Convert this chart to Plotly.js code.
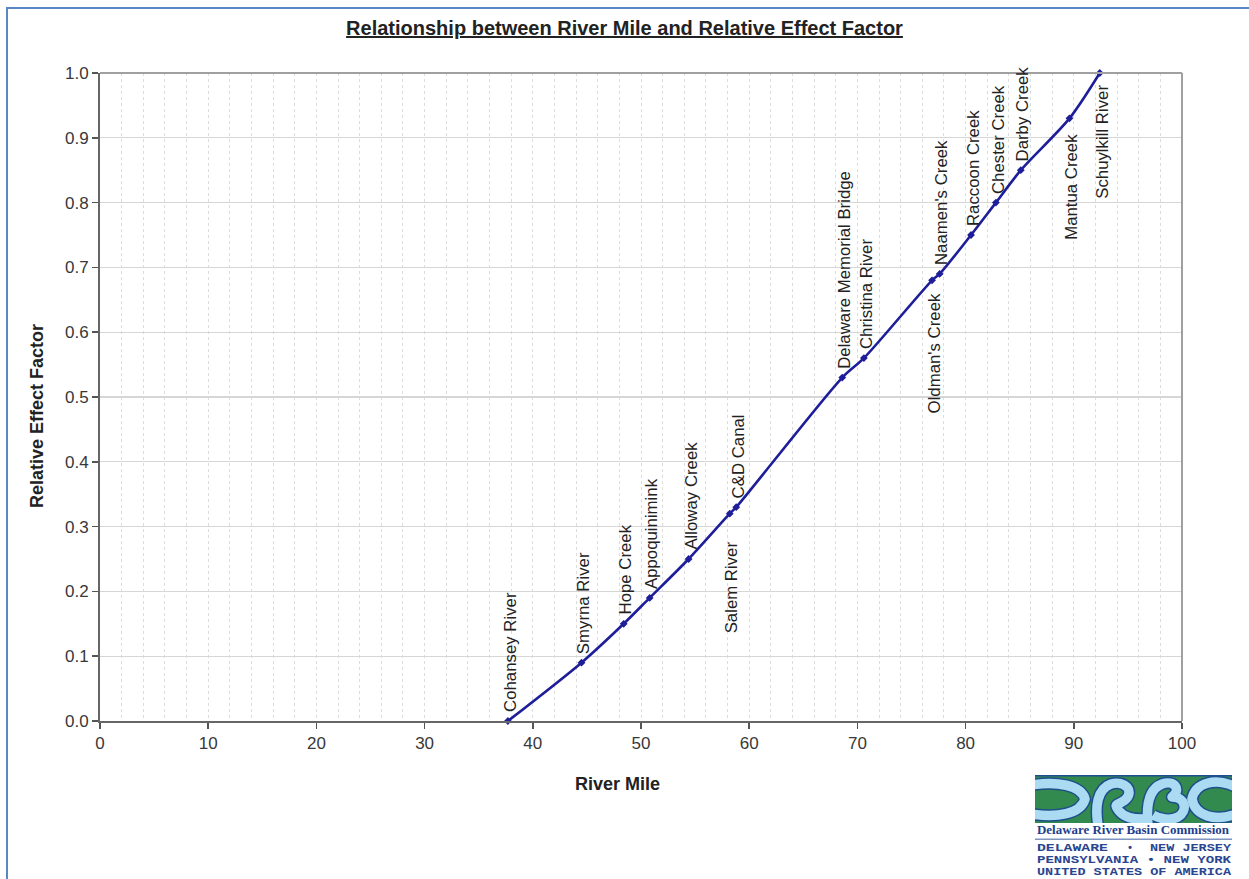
<!DOCTYPE html>
<html>
<head>
<meta charset="utf-8">
<script src="https://cdn.plot.ly/plotly-3.0.1.min.js"></script>
<style>
  html, body { margin: 0; padding: 0; background: #fff; overflow: hidden; }
  #wrap { position: relative; width: 1249px; height: 879px; overflow: hidden; }
  #frame { position: absolute; left: 6px; top: 7px; width: 1400px; height: 1000px;
           border-left: 2px solid #5a88c4; border-top: 2px solid #5a88c4; box-sizing: border-box; pointer-events: none; }
  #chart { position: absolute; left: 0; top: 0; width: 1249px; height: 879px; }
  #logo { position: absolute; left: 1035px; top: 775px; width: 200px; height: 104px; overflow: visible; }
</style>
</head>
<body>
<div id="wrap">
  <div id="chart"></div>
  <div id="frame"></div>
  <svg id="logo" width="200" height="104" viewBox="0 0 200 104" xmlns="http://www.w3.org/2000/svg">
    <defs>
      <clipPath id="box"><rect x="0" y="0" width="197" height="48"/></clipPath>
    </defs>
    <rect x="0" y="0" width="197" height="48" fill="#338a4e"/>
    <g fill="none" stroke-linecap="butt" stroke-linejoin="round" clip-path="url(#box)">
      <g stroke="#1d4f8a" stroke-width="12.5">
        <path d="M-4,10 C22,6 46,10 50,24 C46,39 22,43 -4,39"/>
        <path d="M63,50 C60,32 62,14 76,9 C90,5 100,16 90,25 C82,31 78,28 84,36 C90,43 98,44 108,44"/>
        <path d="M113,50 C111,30 114,14 127,9 C139,5 147,14 137,22 C151,22 153,36 143,42 C135,46 125,44 118,40"/>
        <path d="M201,12 C180,2 160,8 157,24 C160,41 180,47 201,39"/>
      </g>
      <g stroke="#abdaf3" stroke-width="9.5">
        <path d="M-4,10 C22,6 46,10 50,24 C46,39 22,43 -4,39"/>
        <path d="M63,50 C60,32 62,14 76,9 C90,5 100,16 90,25 C82,31 78,28 84,36 C90,43 98,44 108,44"/>
        <path d="M113,50 C111,30 114,14 127,9 C139,5 147,14 137,22 C151,22 153,36 143,42 C135,46 125,44 118,40"/>
        <path d="M201,12 C180,2 160,8 157,24 C160,41 180,47 201,39"/>
      </g>
    </g>
    <rect x="0" y="0" width="197" height="1.5" fill="#1f4f8f"/>
    <text x="2" y="59" font-family="Liberation Serif, DejaVu Serif, serif" font-weight="bold" font-size="13" fill="#1e3f8c" textLength="192" lengthAdjust="spacingAndGlyphs">Delaware River Basin Commission</text>
    <rect x="0" y="63.5" width="197" height="1.5" fill="#7f95c0"/>
    <g font-family="Liberation Mono, DejaVu Sans Mono, monospace" font-weight="bold" font-size="11" fill="#2a4690">
      <text x="2" y="76" textLength="71" lengthAdjust="spacingAndGlyphs">DELAWARE</text>
      <text x="95" y="76" text-anchor="middle">•</text>
      <text x="115" y="76" textLength="81" lengthAdjust="spacingAndGlyphs">NEW JERSEY</text>
      <text x="2" y="88" textLength="194" lengthAdjust="spacingAndGlyphs">PENNSYLVANIA • NEW YORK</text>
      <text x="2" y="100" textLength="194" lengthAdjust="spacingAndGlyphs">UNITED STATES OF AMERICA</text>
    </g>
  </svg>
</div>
<script>
// ---- data ----
const locations = [
  "Cohansey River", "Smyrna River", "Hope Creek", "Appoquinimink", "Alloway Creek",
  "Salem River", "C&D Canal", "Delaware Memorial Bridge", "Christina River",
  "Oldman's Creek", "Naamen's Creek", "Raccoon Creek", "Chester Creek", "Darby Creek",
  "Mantua Creek", "Schuylkill River"
];
const riverMile = [37.7, 44.5, 48.4, 50.8, 54.4, 58.2, 58.8, 68.6, 70.6, 76.9, 77.6, 80.5, 82.8, 85.1, 89.6, 92.4];
const effectFactor = [0.00, 0.09, 0.15, 0.19, 0.25, 0.32, 0.33, 0.53, 0.56, 0.68, 0.69, 0.75, 0.80, 0.85, 0.93, 1.00];
const xTickVals = [0, 10, 20, 30, 40, 50, 60, 70, 80, 90, 100];
const yTickVals = [0, 0.1, 0.2, 0.3, 0.4, 0.5, 0.6, 0.7, 0.8, 0.9, 1.0];

// ---- styling ----
const labelsBelow = {"Salem River": -26, "Oldman's Creek": -11, "Mantua Creek": -13, "Schuylkill River": -10};
const lineColor = "#1e1e9a";
const font = "Liberation Sans, Arial, sans-serif";

const annotations = locations.map((name, i) => {
  const below = Object.prototype.hasOwnProperty.call(labelsBelow, name);
  return {
    x: riverMile[i], y: effectFactor[i], xref: "x", yref: "y",
    text: name.replace(/&/g, "&amp;"), showarrow: false, textangle: -90,
    xanchor: "center", yanchor: below ? "top" : "bottom",
    xshift: 2, yshift: below ? labelsBelow[name] : 7,
    font: {family: font, size: 16.8, color: "#222"}
  };
});
annotations.push({
  text: "<b>Relative Effect Factor</b>", xref: "paper", yref: "paper",
  x: (37 - 100) / 1082, y: (721 - 416) / 648, xanchor: "center", yanchor: "middle",
  textangle: -90, showarrow: false, font: {family: font, size: 18, color: "#222"}
});
annotations.push({
  text: "<b>River Mile</b>", xref: "paper", yref: "paper",
  x: (617 - 100) / 1082, y: (721 - 784) / 648, xanchor: "center", yanchor: "middle",
  showarrow: false, font: {family: font, size: 18, color: "#222"}
});

const trace = {
  x: riverMile, y: effectFactor, text: locations,
  type: "scatter", mode: "lines+markers",
  line: {color: lineColor, width: 2.6, shape: "spline", smoothing: 0.8},
  marker: {symbol: "diamond", size: 6, color: lineColor},
  cliponaxis: false, hoverinfo: "x+y+text"
};

const layout = {
  width: 1249, height: 879,
  margin: {l: 100, r: 67, t: 73, b: 158},
  paper_bgcolor: "rgba(0,0,0,0)", plot_bgcolor: "#fff",
  showlegend: false,
  title: {
    text: "<b><u>Relationship between River Mile and Relative Effect Factor</u></b>",
    font: {family: font, size: 20, color: "#222"},
    x: 0.5, xref: "container", xanchor: "center",
    y: 1 - 28/879, yref: "container", yanchor: "middle"
  },
  xaxis: {
    range: [0, 100], tickvals: xTickVals, ticktext: xTickVals.map(String),
    ticks: "outside", ticklen: 6, tickwidth: 1.5, tickcolor: "#555",
    showline: true, linecolor: "#666", linewidth: 2, mirror: false,
    showgrid: true, gridcolor: "#dcdcdc", griddash: "dot", gridwidth: 1,
    minor: {dtick: 2, showgrid: true, gridcolor: "#dcdcdc", griddash: "dot", gridwidth: 1},
    zeroline: false,
    tickfont: {family: font, size: 17, color: "#383838"}
  },
  yaxis: {
    range: [0, 1], tickvals: yTickVals, ticktext: yTickVals.map(v => v.toFixed(1)),
    ticks: "outside", ticklen: 6, tickwidth: 1.5, tickcolor: "#555",
    showline: true, linecolor: "#666", linewidth: 2, mirror: false,
    showgrid: true, gridcolor: "#d6d6d6", gridwidth: 1.2,
    zeroline: false,
    tickfont: {family: font, size: 17, color: "#383838"}
  },
  shapes: [
    {type: "line", xref: "paper", yref: "paper", x0: 0, x1: 1, y0: 1, y1: 1, line: {color: "#a0a0a0", width: 2}},
    {type: "line", xref: "paper", yref: "paper", x0: 1, x1: 1, y0: 0, y1: 1, line: {color: "#a0a0a0", width: 2}}
  ],
  annotations: annotations
};

Plotly.newPlot("chart", [trace], layout, {displayModeBar: false, staticPlot: true});
</script>
</body>
</html>
